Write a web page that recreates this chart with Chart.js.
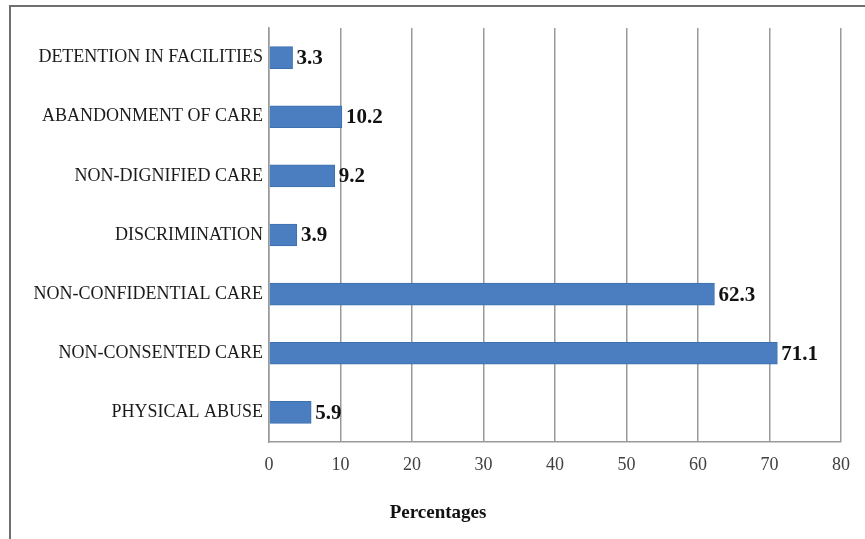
<!DOCTYPE html>
<html>
<head>
<meta charset="utf-8">
<script src="https://cdn.jsdelivr.net/npm/chart.js@4.4.1/dist/chart.umd.min.js"></script>
<style>
  html, body { margin: 0; padding: 0; background: #fff; }
  #wrap { width: 865px; height: 539px; position: relative; }
</style>
</head>
<body>
<div id="wrap"><canvas id="c" width="865" height="539"></canvas></div>
<script>
const categories = [
  "DETENTION IN FACILITIES",
  "ABANDONMENT OF CARE",
  "NON-DIGNIFIED CARE",
  "DISCRIMINATION",
  "NON-CONFIDENTIAL CARE",
  "NON-CONSENTED CARE",
  "PHYSICAL ABUSE"
];
const values = [3.3, 10.2, 9.2, 3.9, 62.3, 71.1, 5.9];
const xTicks = [0, 10, 20, 30, 40, 50, 60, 70, 80];
const axisTitle = "Percentages";

const SERIF = '"Liberation Serif", "Times New Roman", "DejaVu Serif", serif';

const valueLabels = {
  id: 'valueLabels',
  afterDatasetsDraw(chart) {
    const ctx = chart.ctx;
    const meta = chart.getDatasetMeta(0);
    ctx.save();
    ctx.font = 'bold 21px ' + SERIF;
    ctx.fillStyle = '#111';
    ctx.textAlign = 'left';
    ctx.textBaseline = 'middle';
    meta.data.forEach((bar, i) => {
      ctx.fillText(values[i].toFixed(1), bar.x + 4, bar.y + 1);
    });
    ctx.restore();
  }
};

const frameAndTitle = {
  id: 'frameAndTitle',
  afterDraw(chart) {
    const ctx = chart.ctx;
    ctx.save();
    ctx.strokeStyle = '#707070';
    ctx.lineWidth = 2;
    ctx.beginPath();
    ctx.moveTo(865, 6);
    ctx.lineTo(10, 6);
    ctx.lineTo(10, 539);
    ctx.stroke();
    ctx.font = 'bold 19px ' + SERIF;
    ctx.fillStyle = '#111';
    ctx.textAlign = 'center';
    ctx.textBaseline = 'middle';
    ctx.fillText(axisTitle, 438, 513);
    ctx.restore();
  }
};

new Chart(document.getElementById('c'), {
  type: 'bar',
  data: {
    labels: categories,
    datasets: [{
      data: values,
      backgroundColor: '#4A7EC0',
      borderColor: '#3F70AE',
      borderWidth: 1,
      barThickness: 22
    }]
  },
  options: {
    indexAxis: 'y',
    responsive: false,
    animation: false,
    devicePixelRatio: 1,
    layout: { padding: { left: 10, right: 24, top: 28, bottom: 0 } },
    plugins: {
      legend: { display: false },
      tooltip: { enabled: false }
    },
    scales: {
      x: {
        min: 0,
        max: 80,
        afterBuildTicks(scale) { scale.ticks = xTicks.map(v => ({ value: v })); },
        afterFit(scale) { scale.height = 97; },
        grid: { color: '#9a9a9a', lineWidth: 1.5, drawTicks: false },
        border: { color: '#9a9a9a', width: 1.5 },
        ticks: {
          font: { family: SERIF, size: 18 },
          color: '#404040',
          padding: 12,
          maxRotation: 0
        }
      },
      y: {
        afterFit(scale) { scale.width = 259; },
        grid: { display: false, drawTicks: false },
        border: { color: '#9a9a9a', width: 1.5 },
        ticks: {
          font: { family: SERIF, size: 18 },
          color: '#1a1a1a',
          padding: 6
        }
      }
    }
  },
  plugins: [valueLabels, frameAndTitle]
});
</script>
</body>
</html>
